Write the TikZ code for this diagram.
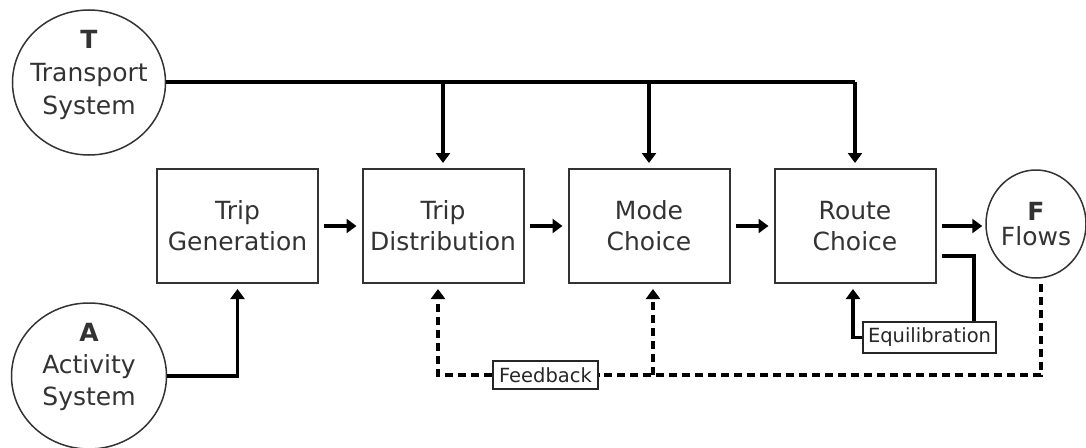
\documentclass[tikz,border=0pt]{standalone}
\usepackage{fontspec}
\setmainfont{DejaVu Sans}
\usetikzlibrary{arrows.meta,shapes.geometric,calc}
\begin{document}
\begin{tikzpicture}[x=1pt,y=-1pt,
  stage/.style={draw=black!80, line width=2pt, minimum width=161pt,
    minimum height=114pt, inner sep=0pt, align=center,
    font=\fontsize{25}{31}\selectfont, text=black!80},
  sys/.style={ellipse, draw=black!80, line width=1.5pt, inner sep=0pt},
  systext/.style={align=center, inner sep=0pt, text=black!80},
  tag/.style={draw=black!85, line width=1.6pt, inner sep=0pt,
    font=\fontsize{19.5}{22}\selectfont, text=black!85},
  link/.style={line width=3.6pt},
  flow/.style={link, -{Triangle[length=10pt,width=14pt]}},
  fb/.style={line width=3.4pt, dash pattern=on 8pt off 5pt},
  fbflow/.style={fb, -{Triangle[length=10pt,width=14pt]}}
]
\useasboundingbox (0,0) rectangle (1086,447);

% external systems
\node[sys, minimum width=153pt, minimum height=145pt] (T) at (89,82.5) {};
\node[systext, font=\fontsize{25}{33}\selectfont] (Tt) at (89,75)
  {\textbf{T}\\Transport\\System};
\node[sys, minimum width=155pt, minimum height=146pt] (A) at (89,376) {};
\node[systext, font=\fontsize{25}{32}\selectfont] (At) at (89,367)
  {\textbf{A}\\Activity\\System};
\node[sys, minimum width=100pt, minimum height=108pt] (F) at (1036,224) {};
\node[systext, font=\fontsize{25}{25}\selectfont] (Ft) at (1036,224)
  {\textbf{F}\\Flows};

% four-step model stages
\node[stage] (TG) at (237.5,226) {Trip\\Generation};
\node[stage] (TD) at (443,226) {Trip\\Distribution};
\node[stage] (MC) at (649,226) {Mode\\Choice};
\node[stage] (RC) at (855,226) {Route\\Choice};

% loop labels
\node[tag, minimum width=105pt, minimum height=28pt] (FB) at (545.5,375) {Feedback};
\node[tag, minimum width=133pt, minimum height=31pt] (EQ) at (929.5,337.5) {Equilibration};

% main sequence
\draw[flow, shorten <=5pt, shorten >=5pt] (TG.east) -- (TD.west);
\draw[flow, shorten <=5pt, shorten >=5pt] (TD.east) -- (MC.west);
\draw[flow, shorten <=5pt, shorten >=5pt] (MC.east) -- (RC.west);
\draw[flow, shorten <=5pt, shorten >=3pt] (RC.east) -- (RC.east -| F.west);

% transport system supply
\coordinate (tj) at ($(T.east)+(0,-0.5)$);
\draw[link] (tj) -- (tj -| RC.north);
\draw[flow, shorten >=5pt] (tj -| TD.north) -- (TD.north);
\draw[flow, shorten >=5pt] (tj -| MC.north) -- (MC.north);
\draw[flow, shorten >=5pt] (tj -| RC.north) -- (RC.north);

% activity system
\draw[flow, shorten >=5pt] (A.east) -| (TG.south);

% equilibration loop
\coordinate (eqout) at ($(RC.east)+(5,30)$);
\coordinate (eqin) at ($(EQ.north east)+(-23,0)$);
\draw[link] (eqout) -| (eqin);
\coordinate (rcin) at ($(RC.south)+(-2,0)$);
\draw[flow, shorten >=5pt] (EQ.west) -| (rcin);

% feedback loop
\coordinate (fout) at ($(F.south)+(5,0)$);
\coordinate (tdin) at ($(TD.south)+(-5,0)$);
\coordinate (mcin) at ($(MC.south)+(4,0)$);
\coordinate (mcjoin) at (mcin |- FB.east);
\draw[fb, shorten <=5pt] (fout) |- (FB.east);
\draw[fbflow, shorten >=5pt] (FB.west) -| (tdin);
\draw[fbflow, shorten >=5pt] (mcjoin) -- (mcin);
\end{tikzpicture}
\end{document}
